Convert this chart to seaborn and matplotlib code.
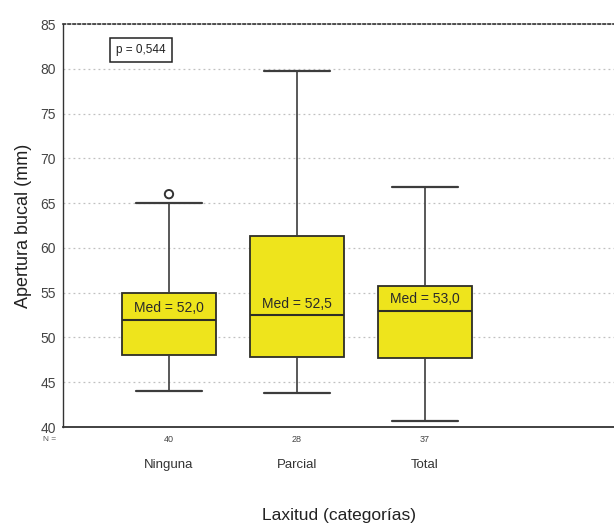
import numpy as np
import pandas as pd
import matplotlib
matplotlib.use("Agg")
import matplotlib.pyplot as plt
import seaborn as sns

# Five-number summaries per laxity category (mm)
categories = ["Ninguna", "Parcial", "Total"]
whisker_low = [44.0, 43.8, 40.7]
q1 = [48.0, 47.8, 47.7]
medians = [52.0, 52.5, 53.0]
q3 = [55.0, 61.3, 55.7]
whisker_high = [65.0, 79.8, 66.8]
n_counts = [40, 28, 37]
median_labels = ["Med = 52,0", "Med = 52,5", "Med = 53,0"]

# Outliers beyond the whiskers
outlier_cat = ["Ninguna"]
outlier_val = [66.0]

p_text = "p = 0,544"
yticks = [40, 45, 50, 55, 60, 65, 70, 75, 80, 85]

rows = []
for i, c in enumerate(categories):
    for v in (whisker_low[i], q1[i], medians[i], q3[i], whisker_high[i]):
        rows.append({"Laxitud": c, "Apertura": v})
df = pd.DataFrame(rows)
df_out = pd.DataFrame({"Laxitud": outlier_cat, "Apertura": outlier_val})

sns.set_theme(style="white")
plt.rcParams["font.family"] = ["Liberation Sans", "DejaVu Sans"]

fig = plt.figure(figsize=(6.14, 5.27), dpi=100)
ax = fig.add_axes([63 / 614, 1 - 427 / 527, 1 - 63 / 614, (427 - 24) / 527])

edge = "#2e2e26"
sns.boxplot(
    data=df, x="Laxitud", y="Apertura", order=categories, ax=ax,
    whis=(0, 100), width=0.74, color="#EEE41C", saturation=1,
    linecolor=edge, linewidth=1.1,
    boxprops=dict(facecolor="#EEE41C", edgecolor=edge, linewidth=1.3),
    medianprops=dict(color=edge, linewidth=1.5),
    whiskerprops=dict(color="#3c3c3c", linewidth=1.2),
    capprops=dict(color="#3c3c3c", linewidth=1.6),
    capwidths=0.52,
)
sns.stripplot(
    data=df_out, x="Laxitud", y="Apertura", order=categories, ax=ax,
    jitter=False, marker="o", size=6, facecolor="none",
    edgecolor="#333333", linewidth=1.4, color="none",
)

ax.set_xlim(-0.828, 3.477)
ax.set_ylim(40, 85)
ax.set_yticks(yticks)
ax.set_yticklabels([str(t) for t in yticks], fontsize=10, color="#333333")
ax.yaxis.grid(True, linestyle=(0, (1.5, 2.5)), color="#c0c0c0", linewidth=0.9)
ax.set_axisbelow(True)

# Category tick labels with sample sizes
ax.set_xticks(range(len(categories)))
ax.set_xticklabels([""] * len(categories))
ax.tick_params(axis="x", direction="out", length=3, width=0.8, colors="#444444")
ax.tick_params(axis="y", direction="out", length=3, width=0.8, colors="#444444", pad=2)
trans = ax.get_xaxis_transform()
for i, c in enumerate(categories):
    ax.text(i, -0.03, str(n_counts[i]), transform=trans, ha="center", va="center",
            fontsize=6.5, color="#444444")
    ax.text(i, -0.095, c, transform=trans, ha="center", va="center",
            fontsize=9.5, color="#333333")
ax.text(-0.93, -0.03, "N =", transform=trans, ha="center", va="center",
        fontsize=6, color="#555555")

# Median annotations inside each box
for i, lab in enumerate(median_labels):
    ax.annotate(lab, xy=(i, medians[i]), xytext=(0, 3), textcoords="offset points",
                ha="center", va="bottom", fontsize=10, color="#2a2a2a")

# Test p-value box
ax.text((141 - 63) / (614 - 63), (427 - 50) / (427 - 24), p_text, transform=ax.transAxes,
        ha="center", va="center", fontsize=8.5, color="#222222",
        bbox=dict(boxstyle="square,pad=0.55", facecolor="white", edgecolor="#222222",
                  linewidth=1.1))

ax.set_xlabel("Laxitud (categorías)", fontsize=12.5, color="#222222", labelpad=52)
ax.set_ylabel("Apertura bucal (mm)", fontsize=13, color="#222222", labelpad=6)

ax.spines["right"].set_visible(False)
ax.spines["top"].set_linestyle((0, (1.5, 1.5)))
ax.spines["top"].set_color("#333333")
ax.spines["top"].set_linewidth(1.2)
ax.spines["left"].set_color("#333333")
ax.spines["left"].set_linewidth(1.0)
ax.spines["bottom"].set_color("#333333")
ax.spines["bottom"].set_linewidth(1.3)

fig.savefig("out.png", dpi=100)
